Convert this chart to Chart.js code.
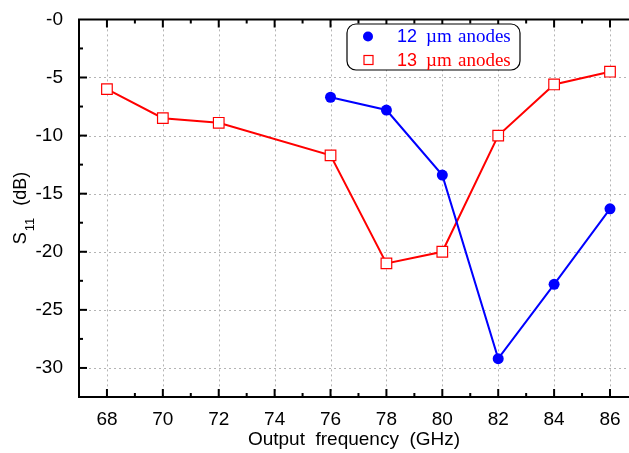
<!DOCTYPE html>
<html>
<head>
<meta charset="utf-8">
<script src="https://cdn.jsdelivr.net/npm/chart.js@4"></script>
<style>
  html, body { margin: 0; padding: 0; background: #fff; overflow: hidden; }
</style>
</head>
<body>
<canvas id="s11Chart" width="629" height="453"></canvas>
<script>
// frequencies (GHz) and S11 (dB)
const freq12 = [76, 78, 80, 82, 84, 86];
const s11_12 = [-6.7, -7.8, -13.4, -29.2, -22.8, -16.3];

const freq13 = [68, 70, 72, 76, 78, 80, 82, 84, 86];
const s11_13 = [-6.0, -8.5, -8.9, -11.7, -21.0, -20.0, -10.0, -5.6, -4.5];

const legendNames = ["12", "13"];
const xTicks = [67, 68, 69, 70, 71, 72, 73, 74, 75, 76, 77, 78, 79, 80, 81, 82, 83, 84, 85, 86];

const X_MIN = 67, X_MAX = 86.68;
const Y_MIN = -32.5, Y_MAX = 0;

const FONT = "Liberation Sans, Arial, sans-serif";
const SERIF = "'Liberation Serif', 'Times New Roman', serif";

// grid, axes with inside ticks, legend box and y title
const framePlugin = {
  id: "frame",
  beforeDatasetsDraw(chart) {
    const { ctx, chartArea: a, scales: { x, y } } = chart;
    ctx.save();
    ctx.strokeStyle = "#b4b4b4";
    ctx.lineWidth = 1;
    ctx.setLineDash([2, 3]);
    for (let v = 68; v <= 86; v += 2) {
      const px = Math.round(x.getPixelForValue(v)) + 0.5;
      ctx.beginPath(); ctx.moveTo(px, a.top); ctx.lineTo(px, a.bottom); ctx.stroke();
    }
    for (let v = -30; v < 0; v += 5) {
      const py = Math.round(y.getPixelForValue(v)) + 0.5;
      ctx.beginPath(); ctx.moveTo(a.left, py); ctx.lineTo(a.right, py); ctx.stroke();
    }
    ctx.restore();
  },
  afterDatasetsDraw(chart) {
    const { ctx, chartArea: a, scales: { x, y } } = chart;
    ctx.save();
    ctx.strokeStyle = "#000";
    ctx.lineWidth = 2;
    ctx.beginPath();
    ctx.moveTo(a.right + 2, a.top); ctx.lineTo(a.left, a.top);
    ctx.lineTo(a.left, a.bottom); ctx.lineTo(a.right + 2, a.bottom);
    ctx.stroke();

    // x ticks, bottom and top
    xTicks.forEach(v => {
      const px = x.getPixelForValue(v);
      const len = v % 2 === 0 ? 8 : 4;
      ctx.beginPath();
      ctx.moveTo(px, a.bottom); ctx.lineTo(px, a.bottom - len);
      ctx.moveTo(px, a.top); ctx.lineTo(px, a.top + len);
      ctx.stroke();
    });
    // y ticks
    for (let v = -30; v < 0; v += 2.5) {
      const py = y.getPixelForValue(v);
      const len = v % 5 === 0 ? 8 : 4;
      ctx.beginPath(); ctx.moveTo(a.left, py); ctx.lineTo(a.left + len, py); ctx.stroke();
    }

    // legend
    const bx = 347, by = 24, bw = 173, bh = 46;
    ctx.lineWidth = 1.2;
    ctx.strokeStyle = "#000";
    ctx.beginPath();
    ctx.roundRect(bx, by, bw, bh, 9);
    ctx.fillStyle = "#fff";
    ctx.fill();
    ctx.stroke();

    const rows = [
      { name: legendNames[0], color: "#0000ff", y: 36.5 },
      { name: legendNames[1], color: "#ff0000", y: 60 }
    ];
    rows.forEach((r, i) => {
      ctx.fillStyle = r.color;
      ctx.strokeStyle = r.color;
      if (i === 0) {
        ctx.beginPath(); ctx.arc(368, r.y, 5, 0, Math.PI * 2); ctx.fill();
      } else {
        ctx.lineWidth = 1.2;
        ctx.strokeRect(364, r.y - 4.5, 9, 9);
      }
      ctx.textBaseline = "middle";
      ctx.textAlign = "left";
      ctx.font = "18px " + FONT;
      ctx.fillText(r.name, 397, r.y + 1);
      ctx.font = "19px " + SERIF;
      ctx.fillText("\u00b5m", 426, r.y + 1);
      ctx.fillText("anodes", 458, r.y + 1);
    });

    // y axis title: S11 (dB)
    ctx.translate(26, 208);
    ctx.rotate(-Math.PI / 2);
    ctx.fillStyle = "#000";
    ctx.textBaseline = "alphabetic";
    ctx.textAlign = "left";
    const s = "S", sub = "11", rest = "(dB)";
    ctx.font = "18px " + FONT;
    const ws = ctx.measureText(s).width;
    const wr = ctx.measureText(rest).width;
    ctx.font = "13px " + FONT;
    const wsub = ctx.measureText(sub).width;
    const total = ws + 1 + wsub + 12 + wr;
    let cx = -total / 2;
    ctx.font = "18px " + FONT;
    ctx.fillText(s, cx, 0); cx += ws + 1;
    ctx.font = "13px " + FONT;
    ctx.fillText(sub, cx, 8); cx += wsub + 12;
    ctx.font = "18px " + FONT;
    ctx.fillText(rest, cx, 0);
    ctx.restore();
  }
};

new Chart(document.getElementById("s11Chart").getContext("2d"), {
  type: "line",
  data: {
    datasets: [
      {
        label: "12 \u00b5m anodes",
        data: freq12.map((f, i) => ({ x: f, y: s11_12[i] })),
        borderColor: "#0000ff",
        backgroundColor: "#0000ff",
        borderWidth: 2,
        pointStyle: "circle",
        pointRadius: 5.5,
        pointBorderWidth: 0,
        tension: 0
      },
      {
        label: "13 \u00b5m anodes",
        data: freq13.map((f, i) => ({ x: f, y: s11_13[i] })),
        borderColor: "#ff0000",
        backgroundColor: "#ffffff",
        borderWidth: 2,
        pointStyle: "rect",
        pointRadius: 7.5,
        pointBorderWidth: 1.2,
        tension: 0
      }
    ]
  },
  options: {
    responsive: false,
    animation: false,
    layout: { autoPadding: false, padding: { top: 15, right: 0, left: 0, bottom: 0 } },
    plugins: { legend: { display: false }, tooltip: { enabled: false } },
    scales: {
      x: {
        type: "linear",
        min: X_MIN,
        max: X_MAX,
        grid: { display: false },
        border: { display: false },
        afterBuildTicks: s => { s.ticks = xTicks.map(v => ({ value: v })); },
        afterFit: s => { s.height = 56; },
        title: {
          display: true,
          text: "Output  frequency  (GHz)",
          color: "#000",
          font: { family: FONT, size: 19 },
          padding: { top: 0, bottom: 2 }
        },
        ticks: {
          autoSkip: false,
          maxRotation: 0,
          padding: 3,
          color: "#000",
          font: { family: FONT, size: 19 },
          callback: v => (v % 2 === 0 ? v : "")
        }
      },
      y: {
        min: Y_MIN,
        max: Y_MAX,
        grid: { display: false },
        border: { display: false },
        afterFit: s => { s.width = 79; },
        ticks: {
          stepSize: 2.5,
          autoSkip: false,
          padding: 8,
          color: "#000",
          font: { family: FONT, size: 19 },
          callback: v => (v === 0 ? "-0" : (v % 5 === 0 ? v : ""))
        }
      }
    }
  },
  plugins: [framePlugin]
});
</script>
</body>
</html>
